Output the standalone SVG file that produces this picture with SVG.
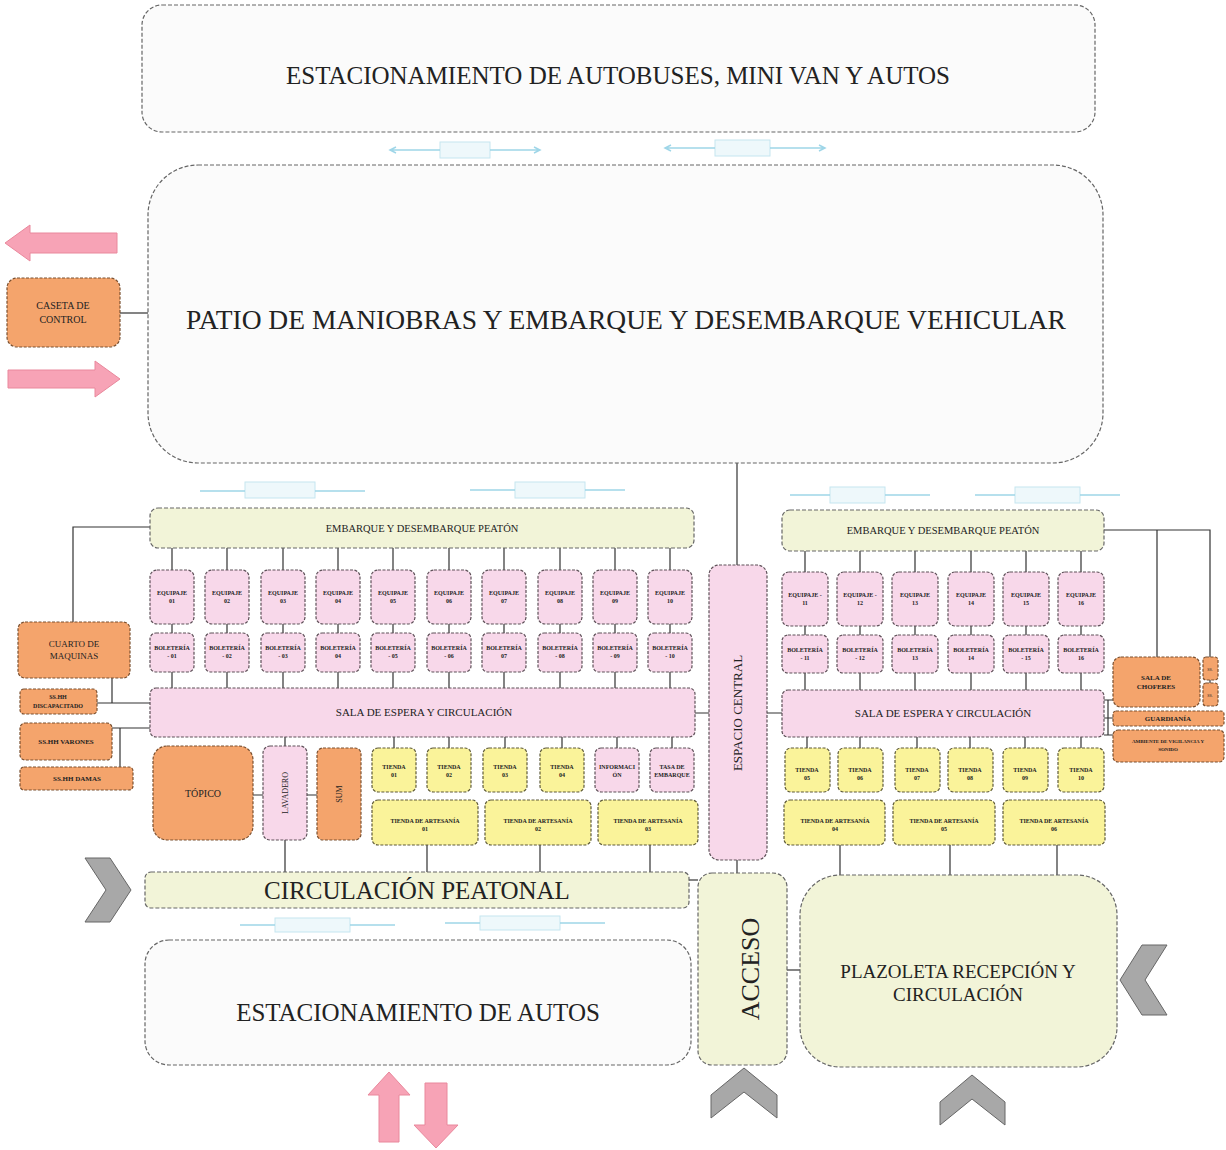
<svg xmlns="http://www.w3.org/2000/svg" width="1226" height="1150" viewBox="0 0 1226 1150">
<defs>
<style>
.big{fill:#fbfbfb;stroke:#666;stroke-width:1.2;stroke-dasharray:4 2}
.gn{fill:#f2f4d8;stroke:#666;stroke-width:1.2;stroke-dasharray:4 2}
.or{fill:#f4a46c;stroke:#7a5030;stroke-width:1.2;stroke-dasharray:3 1.5}
.pk{fill:#f8d8ea;stroke:#5e5058;stroke-width:1.2;stroke-dasharray:3 1.5}
.yl{fill:#faf39a;stroke:#5e5a38;stroke-width:1.2;stroke-dasharray:3 1.5}
.ln{stroke:#333;stroke-width:1.2;fill:none}
.t{font-family:"Liberation Serif","Times New Roman",serif;fill:#222;text-anchor:middle}
.s{font-size:6px;font-weight:bold}
.m{font-size:10.5px}
.pa{fill:#f7a3b6;stroke:#e9889c;stroke-width:1}
.ch{fill:#a8a8a8;stroke:#666;stroke-width:1}
.ba{stroke:#9fd6e8;stroke-width:1.5;fill:none}
.bb{fill:#eef8fb;stroke:#c5e6f0;stroke-width:1}
</style>
</defs>

<!-- connectors -->
<g id="connectors">
<path class="ln" d="M120 313H148"/>
<path class="ln" d="M737 463V565"/>
<path class="ln" d="M737 860V873"/>
<path class="ln" d="M695 713H709M767 713H782"/>
<path class="ln" d="M689 880H698"/>
<path class="ln" d="M787 970H800"/>
<path class="ln" d="M73 622V527H150"/>
<path class="ln" d="M112 678V703"/>
<path class="ln" d="M97 703H150"/>
<path class="ln" d="M112 728H150"/>
<path class="ln" d="M120 728V767"/>
<path class="ln" d="M1104 530H1210V657M1157 530V657"/>
<path class="ln" d="M1104 700H1113M1104 718H1113M1104 735H1113M1108 700V735"/>
<path class="ln" d="M1210 680V683"/>
<path class="ln" d="M172 548V570M172 624V633M172 672V688M227 548V570M227 624V633M227 672V688M283 548V570M283 624V633M283 672V688M338 548V570M338 624V633M338 672V688M393 548V570M393 624V633M393 672V688M449 548V570M449 624V633M449 672V688M504 548V570M504 624V633M504 672V688M560 548V570M560 624V633M560 672V688M615 548V570M615 624V633M615 672V688M670 548V570M670 624V633M670 672V688"/>
<path class="ln" d="M805 551V572M805 626V635M805 673V690M860 551V572M860 626V635M860 673V690M915 551V572M915 626V635M915 673V690M971 551V572M971 626V635M971 673V690M1026 551V572M1026 626V635M1026 673V690M1081 551V572M1081 626V635M1081 673V690"/>
<path class="ln" d="M285 737V746M285 840V872M253 795H263M307 795H317"/>
<path class="ln" d="M394 737V748M449 737V748M505 737V748M562 737V748M617 737V748M672 737V748"/>
<path class="ln" d="M427 845V872M540 845V872M650 845V872"/>
<path class="ln" d="M807 737V748M860 737V748M917 737V748M970 737V748M1025 737V748M1081 737V748"/>
<path class="ln" d="M840 845V875M950 845V875M1057 845V875"/>
</g>

<!-- blue double arrows -->
<g id="flow-arrows">
<rect class="bb" x="440" y="142" width="50" height="16"/><path class="ba" d="M390 150H440M490 150H540M396 147L390 150L396 153M534 147L540 150L534 153"/>
<rect class="bb" x="715" y="140" width="55" height="16"/><path class="ba" d="M665 148H715M770 148H825M671 145L665 148L671 151M819 145L825 148L819 151"/>
<rect class="bb" x="245" y="482" width="70" height="16"/><path class="ba" d="M200 491H245M315 491H365"/>
<rect class="bb" x="515" y="482" width="70" height="16"/><path class="ba" d="M470 490H515M585 490H625"/>
<rect class="bb" x="830" y="487" width="55" height="16"/><path class="ba" d="M790 495H830M885 495H930"/>
<rect class="bb" x="1015" y="487" width="65" height="16"/><path class="ba" d="M975 495H1015M1080 495H1120"/>
<rect class="bb" x="275" y="918" width="75" height="14"/><path class="ba" d="M240 925H275M350 925H395"/>
<rect class="bb" x="480" y="916" width="80" height="14"/><path class="ba" d="M445 923H480M560 923H605"/>
</g>

<!-- pink arrows -->
<g id="pink-arrows">
<path class="pa" d="M5 243L30 225V233H117V253H30V261Z"/>
<path class="pa" d="M8 370H95V361L120 379L95 397V388H8Z"/>
<path class="pa" d="M368 1095L389 1072L410 1095H399V1142H379V1095Z"/>
<path class="pa" d="M425 1083H447V1125H458L436 1148L414 1125H425Z"/>
</g>

<!-- chevrons -->
<g id="chevrons">
<path class="ch" d="M85 858H110L131 890L110 922H85L106 890Z"/>
<path class="ch" d="M1167 945H1142L1120 980L1142 1015H1167L1145 980Z"/>
<path class="ch" d="M711 1095L744 1068L777 1095V1118L744 1092L711 1118Z"/>
<path class="ch" d="M940 1102L972 1075L1005 1102V1125L972 1099L940 1125Z"/>
</g>

<g id="estacionamiento-buses"><rect class="big" x="142" y="5" width="953" height="127" rx="20"/><text class="t" x="618" y="84" font-size="25">ESTACIONAMIENTO DE AUTOBUSES, MINI VAN Y AUTOS</text></g>
<g id="patio"><rect class="big" x="148" y="165" width="955" height="298" rx="50"/><text class="t" x="626" y="329" font-size="27.5">PATIO DE MANIOBRAS Y EMBARQUE Y DESEMBARQUE VEHICULAR</text></g>
<g id="caseta"><rect class="or" x="7" y="278" width="113" height="69" rx="10"/><text class="t" x="63" y="309" style="font-size:10px">CASETA DE</text><text class="t" x="63" y="323" style="font-size:10px">CONTROL</text></g>

<g id="embarque-izq"><rect class="gn" x="150" y="508" width="544" height="40" rx="8"/><text class="t m" x="422" y="532">EMBARQUE Y DESEMBARQUE PEATÓN</text></g>
<g id="embarque-der"><rect class="gn" x="782" y="510" width="322" height="41" rx="8"/><text class="t m" x="943" y="534">EMBARQUE Y DESEMBARQUE PEATÓN</text></g>

<g id="equipaje-01"><rect class="pk" x="150" y="570" width="44" height="54" rx="7"/><text class="t s" x="172" y="595">EQUIPAJE</text><text class="t s" x="172" y="603">01</text></g>
<g id="equipaje-02"><rect class="pk" x="205" y="570" width="44" height="54" rx="7"/><text class="t s" x="227" y="595">EQUIPAJE</text><text class="t s" x="227" y="603">02</text></g>
<g id="equipaje-03"><rect class="pk" x="261" y="570" width="44" height="54" rx="7"/><text class="t s" x="283" y="595">EQUIPAJE</text><text class="t s" x="283" y="603">03</text></g>
<g id="equipaje-04"><rect class="pk" x="316" y="570" width="44" height="54" rx="7"/><text class="t s" x="338" y="595">EQUIPAJE</text><text class="t s" x="338" y="603">04</text></g>
<g id="equipaje-05"><rect class="pk" x="371" y="570" width="44" height="54" rx="7"/><text class="t s" x="393" y="595">EQUIPAJE</text><text class="t s" x="393" y="603">05</text></g>
<g id="equipaje-06"><rect class="pk" x="427" y="570" width="44" height="54" rx="7"/><text class="t s" x="449" y="595">EQUIPAJE</text><text class="t s" x="449" y="603">06</text></g>
<g id="equipaje-07"><rect class="pk" x="482" y="570" width="44" height="54" rx="7"/><text class="t s" x="504" y="595">EQUIPAJE</text><text class="t s" x="504" y="603">07</text></g>
<g id="equipaje-08"><rect class="pk" x="538" y="570" width="44" height="54" rx="7"/><text class="t s" x="560" y="595">EQUIPAJE</text><text class="t s" x="560" y="603">08</text></g>
<g id="equipaje-09"><rect class="pk" x="593" y="570" width="44" height="54" rx="7"/><text class="t s" x="615" y="595">EQUIPAJE</text><text class="t s" x="615" y="603">09</text></g>
<g id="equipaje-10"><rect class="pk" x="648" y="570" width="44" height="54" rx="7"/><text class="t s" x="670" y="595">EQUIPAJE</text><text class="t s" x="670" y="603">10</text></g>

<g id="boleteria-01"><rect class="pk" x="150" y="633" width="44" height="39" rx="6"/><text class="t s" x="172" y="650">BOLETERÍA</text><text class="t s" x="172" y="658">- 01</text></g>
<g id="boleteria-02"><rect class="pk" x="205" y="633" width="44" height="39" rx="6"/><text class="t s" x="227" y="650">BOLETERÍA</text><text class="t s" x="227" y="658">- 02</text></g>
<g id="boleteria-03"><rect class="pk" x="261" y="633" width="44" height="39" rx="6"/><text class="t s" x="283" y="650">BOLETERÍA</text><text class="t s" x="283" y="658">- 03</text></g>
<g id="boleteria-04"><rect class="pk" x="316" y="633" width="44" height="39" rx="6"/><text class="t s" x="338" y="650">BOLETERÍA</text><text class="t s" x="338" y="658">04</text></g>
<g id="boleteria-05"><rect class="pk" x="371" y="633" width="44" height="39" rx="6"/><text class="t s" x="393" y="650">BOLETERÍA</text><text class="t s" x="393" y="658">- 05</text></g>
<g id="boleteria-06"><rect class="pk" x="427" y="633" width="44" height="39" rx="6"/><text class="t s" x="449" y="650">BOLETERÍA</text><text class="t s" x="449" y="658">- 06</text></g>
<g id="boleteria-07"><rect class="pk" x="482" y="633" width="44" height="39" rx="6"/><text class="t s" x="504" y="650">BOLETERÍA</text><text class="t s" x="504" y="658">07</text></g>
<g id="boleteria-08"><rect class="pk" x="538" y="633" width="44" height="39" rx="6"/><text class="t s" x="560" y="650">BOLETERÍA</text><text class="t s" x="560" y="658">- 08</text></g>
<g id="boleteria-09"><rect class="pk" x="593" y="633" width="44" height="39" rx="6"/><text class="t s" x="615" y="650">BOLETERÍA</text><text class="t s" x="615" y="658">- 09</text></g>
<g id="boleteria-10"><rect class="pk" x="648" y="633" width="44" height="39" rx="6"/><text class="t s" x="670" y="650">BOLETERÍA</text><text class="t s" x="670" y="658">- 10</text></g>

<g id="equipaje-11"><rect class="pk" x="782" y="572" width="46" height="54" rx="7"/><text class="t s" x="805" y="597">EQUIPAJE -</text><text class="t s" x="805" y="605">11</text></g>
<g id="equipaje-12"><rect class="pk" x="837" y="572" width="46" height="54" rx="7"/><text class="t s" x="860" y="597">EQUIPAJE -</text><text class="t s" x="860" y="605">12</text></g>
<g id="equipaje-13"><rect class="pk" x="892" y="572" width="46" height="54" rx="7"/><text class="t s" x="915" y="597">EQUIPAJE</text><text class="t s" x="915" y="605">13</text></g>
<g id="equipaje-14"><rect class="pk" x="948" y="572" width="46" height="54" rx="7"/><text class="t s" x="971" y="597">EQUIPAJE</text><text class="t s" x="971" y="605">14</text></g>
<g id="equipaje-15"><rect class="pk" x="1003" y="572" width="46" height="54" rx="7"/><text class="t s" x="1026" y="597">EQUIPAJE</text><text class="t s" x="1026" y="605">15</text></g>
<g id="equipaje-16"><rect class="pk" x="1058" y="572" width="46" height="54" rx="7"/><text class="t s" x="1081" y="597">EQUIPAJE</text><text class="t s" x="1081" y="605">16</text></g>

<g id="boleteria-11"><rect class="pk" x="782" y="635" width="46" height="38" rx="6"/><text class="t s" x="805" y="652">BOLETERÍA</text><text class="t s" x="805" y="660">- 11</text></g>
<g id="boleteria-12"><rect class="pk" x="837" y="635" width="46" height="38" rx="6"/><text class="t s" x="860" y="652">BOLETERÍA</text><text class="t s" x="860" y="660">- 12</text></g>
<g id="boleteria-13"><rect class="pk" x="892" y="635" width="46" height="38" rx="6"/><text class="t s" x="915" y="652">BOLETERÍA</text><text class="t s" x="915" y="660">13</text></g>
<g id="boleteria-14"><rect class="pk" x="948" y="635" width="46" height="38" rx="6"/><text class="t s" x="971" y="652">BOLETERÍA</text><text class="t s" x="971" y="660">14</text></g>
<g id="boleteria-15"><rect class="pk" x="1003" y="635" width="46" height="38" rx="6"/><text class="t s" x="1026" y="652">BOLETERÍA</text><text class="t s" x="1026" y="660">- 15</text></g>
<g id="boleteria-16"><rect class="pk" x="1058" y="635" width="46" height="38" rx="6"/><text class="t s" x="1081" y="652">BOLETERÍA</text><text class="t s" x="1081" y="660">16</text></g>

<g id="sala-izq"><rect class="pk" x="150" y="688" width="545" height="49" rx="6"/><text class="t" font-size="11" x="424" y="716">SALA DE ESPERA Y CIRCULACIÓN</text></g>
<g id="sala-der"><rect class="pk" x="782" y="690" width="322" height="47" rx="6"/><text class="t" font-size="11" x="943" y="717">SALA DE ESPERA Y CIRCULACIÓN</text></g>

<g id="espacio-central"><rect class="pk" x="709" y="565" width="58" height="295" rx="10"/><text class="t" font-size="13" transform="translate(742 713) rotate(-90)">ESPACIO CENTRAL</text></g>

<g id="cuarto-maquinas"><rect class="or" x="18" y="622" width="112" height="56" rx="7"/><text class="t" font-size="9" x="74" y="647">CUARTO DE</text><text class="t" font-size="9" x="74" y="659">MAQUINAS</text></g>
<g id="sshh-discapacitado"><rect class="or" x="20" y="689" width="77" height="25" rx="4"/><text class="t s" x="58" y="699">SS.HH</text><text class="t s" x="58" y="708">DISCAPACITADO</text></g>
<g id="sshh-varones"><rect class="or" x="20" y="723" width="92" height="37" rx="5"/><text class="t" font-size="7" font-weight="bold" x="66" y="744">SS.HH VARONES</text></g>
<g id="sshh-damas"><rect class="or" x="20" y="767" width="113" height="23" rx="4"/><text class="t" font-size="7" font-weight="bold" x="77" y="781">SS.HH DAMAS</text></g>

<g id="topico"><rect class="or" x="153" y="746" width="100" height="94" rx="14"/><text class="t" font-size="10" x="203" y="797">TÓPICO</text></g>
<g id="lavadero"><rect class="pk" x="263" y="746" width="44" height="94" rx="7"/><text class="t" font-size="8" transform="translate(288 793) rotate(-90)">LAVADERO</text></g>
<g id="sum"><rect class="or" x="317" y="748" width="44" height="92" rx="6"/><text class="t" font-size="8" transform="translate(342 794) rotate(-90)">SUM</text></g>

<g id="tienda-01"><rect class="yl" x="372" y="748" width="44" height="44" rx="6"/><text class="t s" x="394" y="769">TIENDA</text><text class="t s" x="394" y="777">01</text></g>
<g id="tienda-02"><rect class="yl" x="427" y="748" width="44" height="44" rx="6"/><text class="t s" x="449" y="769">TIENDA</text><text class="t s" x="449" y="777">02</text></g>
<g id="tienda-03"><rect class="yl" x="483" y="748" width="44" height="44" rx="6"/><text class="t s" x="505" y="769">TIENDA</text><text class="t s" x="505" y="777">03</text></g>
<g id="tienda-04"><rect class="yl" x="540" y="748" width="44" height="44" rx="6"/><text class="t s" x="562" y="769">TIENDA</text><text class="t s" x="562" y="777">04</text></g>
<g id="informacion"><rect class="pk" x="595" y="748" width="44" height="44" rx="6"/><text class="t s" x="617" y="769">INFORMACI</text><text class="t s" x="617" y="777">ÓN</text></g>
<g id="tasa-embarque"><rect class="pk" x="650" y="748" width="44" height="44" rx="6"/><text class="t s" x="672" y="769">TASA DE</text><text class="t s" x="672" y="777">EMBARQUE</text></g>

<g id="artesania-01"><rect class="yl" x="372" y="800" width="106" height="45" rx="6"/><text class="t s" x="425" y="823">TIENDA DE ARTESANÍA</text><text class="t s" x="425" y="831">01</text></g>
<g id="artesania-02"><rect class="yl" x="485" y="800" width="106" height="45" rx="6"/><text class="t s" x="538" y="823">TIENDA DE ARTESANÍA</text><text class="t s" x="538" y="831">02</text></g>
<g id="artesania-03"><rect class="yl" x="598" y="800" width="100" height="45" rx="6"/><text class="t s" x="648" y="823">TIENDA DE ARTESANÍA</text><text class="t s" x="648" y="831">03</text></g>

<g id="tienda-05"><rect class="yl" x="785" y="748" width="45" height="44" rx="6"/><text class="t s" x="807" y="772">TIENDA</text><text class="t s" x="807" y="780">05</text></g>
<g id="tienda-06"><rect class="yl" x="838" y="748" width="45" height="44" rx="6"/><text class="t s" x="860" y="772">TIENDA</text><text class="t s" x="860" y="780">06</text></g>
<g id="tienda-07"><rect class="yl" x="895" y="748" width="45" height="44" rx="6"/><text class="t s" x="917" y="772">TIENDA</text><text class="t s" x="917" y="780">07</text></g>
<g id="tienda-08"><rect class="yl" x="948" y="748" width="45" height="44" rx="6"/><text class="t s" x="970" y="772">TIENDA</text><text class="t s" x="970" y="780">08</text></g>
<g id="tienda-09"><rect class="yl" x="1003" y="748" width="45" height="44" rx="6"/><text class="t s" x="1025" y="772">TIENDA</text><text class="t s" x="1025" y="780">09</text></g>
<g id="tienda-10"><rect class="yl" x="1058" y="748" width="46" height="44" rx="6"/><text class="t s" x="1081" y="772">TIENDA</text><text class="t s" x="1081" y="780">10</text></g>

<g id="artesania-04"><rect class="yl" x="784" y="800" width="101" height="45" rx="6"/><text class="t s" x="835" y="823">TIENDA DE ARTESANÍA</text><text class="t s" x="835" y="831">04</text></g>
<g id="artesania-05"><rect class="yl" x="893" y="800" width="102" height="45" rx="6"/><text class="t s" x="944" y="823">TIENDA DE ARTESANÍA</text><text class="t s" x="944" y="831">05</text></g>
<g id="artesania-06"><rect class="yl" x="1003" y="800" width="102" height="45" rx="6"/><text class="t s" x="1054" y="823">TIENDA DE ARTESANÍA</text><text class="t s" x="1054" y="831">06</text></g>

<g id="sala-choferes"><rect class="or" x="1113" y="657" width="87" height="50" rx="8"/><text class="t" font-size="7" font-weight="bold" x="1156" y="680">SALA DE</text><text class="t" font-size="7" font-weight="bold" x="1156" y="689">CHOFERES</text></g>
<g id="sshh-1"><rect class="or" x="1203" y="657" width="15" height="23" rx="3"/><text class="t" font-size="4" x="1210" y="671">SS.</text></g>
<g id="sshh-2"><rect class="or" x="1203" y="683" width="15" height="23" rx="3"/><text class="t" font-size="4" x="1210" y="697">SS.</text></g>
<g id="guardiania"><rect class="or" x="1113" y="711" width="111" height="15" rx="3"/><text class="t" font-size="7" font-weight="bold" x="1168" y="721">GUARDIANÍA</text></g>
<g id="vigilancia"><rect class="or" x="1113" y="730" width="111" height="32" rx="5"/><text class="t" font-size="5" font-weight="bold" x="1168" y="743">AMBIENTE DE VIGILANCIA Y</text><text class="t" font-size="5" font-weight="bold" x="1168" y="751">SONIDO</text></g>

<g id="circulacion-peatonal"><rect class="gn" x="145" y="872" width="544" height="36" rx="6"/><text class="t" font-size="25" x="417" y="899">CIRCULACIÓN PEATONAL</text></g>
<g id="acceso"><rect class="gn" x="698" y="873" width="89" height="192" rx="14"/><text class="t" font-size="26" transform="translate(759 969) rotate(-90)">ACCESO</text></g>
<g id="plazoleta"><rect class="gn" x="800" y="875" width="317" height="192" rx="40"/><text class="t" font-size="19" x="958" y="978">PLAZOLETA  RECEPCIÓN Y</text><text class="t" font-size="19" x="958" y="1001">CIRCULACIÓN</text></g>
<g id="estacionamiento-autos"><rect class="big" x="145" y="940" width="546" height="125" rx="24"/><text class="t" font-size="25" x="418" y="1021">ESTACIONAMIENTO DE AUTOS</text></g>
</svg>
